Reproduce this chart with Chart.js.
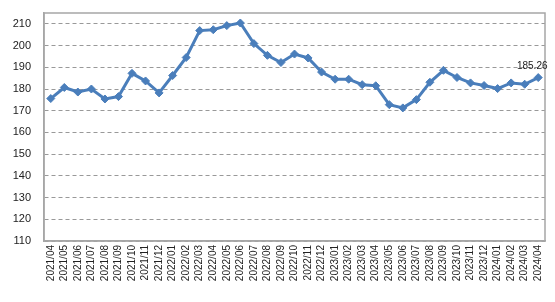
<!DOCTYPE html>
<html>
<head>
<meta charset="utf-8">
<script src="https://cdn.jsdelivr.net/npm/chart.js@4/dist/chart.umd.min.js"></script>
<style>
  html, body { margin: 0; padding: 0; background: #fff; }
  #wrap { width: 555px; height: 302px; }
</style>
</head>
<body>
<div id="wrap"><canvas id="priceChart"></canvas></div>
<script>
const months = [
    "2021/04", "2021/05", "2021/06", "2021/07", "2021/08", "2021/09", "2021/10", "2021/11", "2021/12",
    "2022/01", "2022/02", "2022/03", "2022/04", "2022/05", "2022/06", "2022/07", "2022/08", "2022/09",
    "2022/10", "2022/11", "2022/12", "2023/01", "2023/02", "2023/03", "2023/04", "2023/05", "2023/06",
    "2023/07", "2023/08", "2023/09", "2023/10", "2023/11", "2023/12", "2024/01", "2024/02", "2024/03",
    "2024/04"
];
const values = [
    175.6, 180.7, 178.6, 180.0, 175.4, 176.5, 187.2, 183.7, 178.2,
    186.2, 194.5, 206.9, 207.3, 209.2, 210.4, 200.9, 195.5, 192.2,
    196.1, 194.3, 187.8, 184.5, 184.5, 182.0, 181.5, 172.8, 171.3,
    175.1, 183.1, 188.6, 185.3, 182.8, 181.6, 180.2, 182.8, 182.2,
    185.26
];
const yTicks = [110, 120, 130, 140, 150, 160, 170, 180, 190, 200, 210];

// frame around the plot area and the label on the last point
const framePlugin = {
    id: 'frame',
    afterDraw(chart) {
        const ctx = chart.ctx;
        const a = chart.chartArea;
        ctx.save();
        ctx.strokeStyle = '#a6a6a6';
        ctx.lineWidth = 1.5;
        ctx.strokeRect(a.left, a.top, a.right - a.left, a.bottom - a.top);
        const pts = chart.getDatasetMeta(0).data;
        const last = pts[pts.length - 1];
        ctx.fillStyle = '#222';
        ctx.font = '10px "Liberation Sans", Arial, sans-serif';
        ctx.textAlign = 'center';
        ctx.textBaseline = 'bottom';
        ctx.fillText(values[values.length - 1].toFixed(2), last.x - 6, last.y - 6);
        ctx.restore();
    }
};

const ctx = document.getElementById('priceChart').getContext('2d');
const priceChart = new Chart(ctx, {
    type: 'line',
    data: {
        labels: months,
        datasets: [{
            data: values,
            borderColor: '#4a7ebb',
            backgroundColor: '#4a7ebb',
            borderWidth: 3,
            pointStyle: 'rectRot',
            pointRadius: 4,
            pointBorderWidth: 1,
            tension: 0
        }]
    },
    options: {
        responsive: true,
        maintainAspectRatio: false,
        animation: false,
        layout: { padding: { top: 13, right: 10, left: 0, bottom: 0 } },
        plugins: {
            legend: { display: false },
            tooltip: { enabled: false }
        },
        scales: {
            x: {
                offset: true,
                grid: { display: false, drawTicks: false },
                border: { color: '#a6a6a6', width: 1.5 },
                ticks: {
                    color: '#222',
                    font: { family: '"Liberation Sans", Arial, sans-serif', size: 10 },
                    minRotation: 90,
                    maxRotation: 90,
                    autoSkip: false,
                    padding: 4
                },
                afterFit(scale) {
                    scale.height = 61;
                    scale.paddingLeft = 0;
                    scale.paddingRight = 0;
                }
            },
            y: {
                min: 110,
                max: 215,
                afterBuildTicks(scale) {
                    scale.ticks = yTicks.map(v => ({ value: v }));
                },
                grid: {
                    color: '#999',
                    lineWidth: 1,
                    drawTicks: false
                },
                border: { color: '#a6a6a6', width: 1.5, dash: [4, 3] },
                ticks: {
                    color: '#222',
                    font: { family: '"Liberation Sans", Arial, sans-serif', size: 11 },
                    padding: 13
                },
                afterFit(scale) {
                    scale.width = 44;
                    scale.paddingTop = 0;
                    scale.paddingBottom = 0;
                }
            }
        }
    },
    plugins: [framePlugin]
});
</script>
</body>
</html>
